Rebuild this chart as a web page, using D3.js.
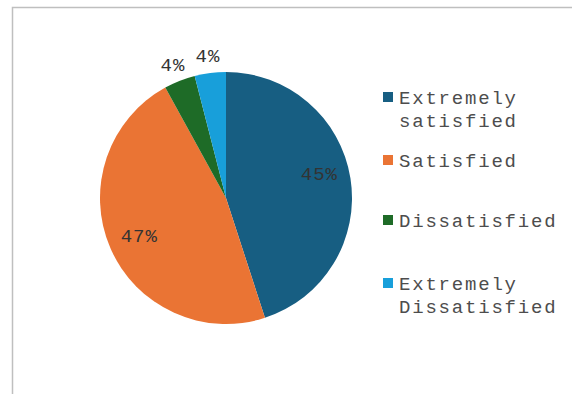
<!DOCTYPE html>
<html>
<head>
<meta charset="utf-8">
<script src="https://cdn.jsdelivr.net/npm/d3@7"></script>
<style>
  body { margin: 0; background: #fff; }
  text { font-family: "Liberation Mono", "Courier New", monospace; }
</style>
</head>
<body>
<script>
// chart data
const categories = ["Extremely satisfied", "Satisfied", "Dissatisfied", "Extremely Dissatisfied"];
const legendLines = [["Extremely", "satisfied"], ["Satisfied"], ["Dissatisfied"], ["Extremely", "Dissatisfied"]];
const values = [45, 47, 4, 4];
const colors = ["#175e82", "#ea7434", "#1e6b27", "#189fda"];

const width = 572, height = 394;
const svg = d3.select("body").append("svg")
    .attr("width", width)
    .attr("height", height);

// frame (only top and left visible in the crop)
svg.append("path")
    .attr("d", "M12.5," + height + "V7.5H" + width)
    .attr("fill", "none")
    .attr("stroke", "#bfbfbf")
    .attr("stroke-width", 1.5);

const cx = 226, cy = 198, r = 126;
const pie = d3.pie().sort(null).value(d => d)(values);
const arc = d3.arc().innerRadius(0).outerRadius(r);

const g = svg.append("g").attr("transform", "translate(" + cx + "," + cy + ")");
g.selectAll(".slice")
    .data(pie)
    .enter().append("path")
    .attr("class", "slice")
    .attr("d", arc)
    .attr("fill", (d, i) => colors[i]);

// label positions: big slices inside, small ones outside
const inArc = d3.arc().innerRadius(r * 0.75).outerRadius(r * 0.75);
const outArc = d3.arc().innerRadius(r + 18).outerRadius(r + 18);
g.selectAll(".lbl")
    .data(pie)
    .enter().append("text")
    .attr("class", "lbl")
    .attr("transform", d => {
        const p = (d.endAngle - d.startAngle) > 0.5 ? inArc.centroid(d) : outArc.centroid(d);
        return "translate(" + p + ")";
    })
    .attr("text-anchor", "middle")
    .attr("dy", d => d.index === 0 ? "-0.15em" : "0.35em")
    .attr("font-size", 19)
    .attr("letter-spacing", 1)
    .attr("fill", "#333333")
    .text(d => d.data + "%");

// legend
const legendY = [97, 160, 220, 283];
const legend = svg.selectAll(".leg")
    .data(categories)
    .enter().append("g")
    .attr("class", "leg")
    .attr("transform", (d, i) => "translate(383," + legendY[i] + ")");
legend.append("rect")
    .attr("x", 0).attr("y", -5)
    .attr("width", 10).attr("height", 10)
    .attr("fill", (d, i) => colors[i]);
legend.append("text")
    .attr("x", 16)
    .attr("dy", "0.35em")
    .attr("font-size", 19)
    .attr("letter-spacing", 1.8)
    .attr("fill", "#4d4d4d")
    .selectAll("tspan")
    .data((d, i) => legendLines[i])
    .enter().append("tspan")
    .attr("x", 16)
    .attr("dy", (d, j) => j === 0 ? "0.35em" : 23)
    .text(d => d);
</script>
</body>
</html>
